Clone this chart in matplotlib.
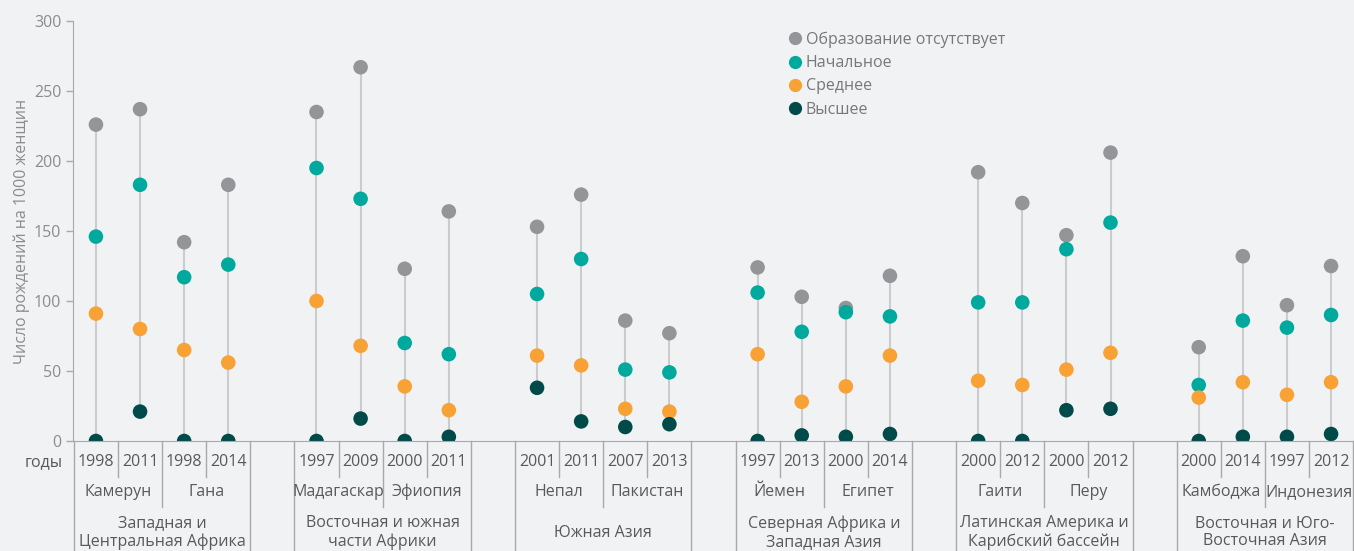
import numpy as np
import matplotlib.pyplot as plt
from matplotlib.lines import Line2D

plt.rcParams['font.family'] = ['Open Sans', 'DejaVu Sans']

# Данные: число рождений на 1000 женщин по уровню образования
regions = ['Западная и\nЦентральная Африка', 'Восточная и южная\nчасти Африки', 'Южная Азия',
           'Северная Африка и\nЗападная Азия', 'Латинская Америка и\nКарибский бассейн',
           'Восточная и Юго-\nВосточная Азия']
countries = ['Камерун', 'Гана', 'Мадагаскар', 'Эфиопия', 'Непал', 'Пакистан',
             'Йемен', 'Египет', 'Гаити', 'Перу', 'Камбоджа', 'Индонезия']
years = ['1998', '2011', '1998', '2014', '1997', '2009', '2000', '2011',
         '2001', '2011', '2007', '2013', '1997', '2013', '2000', '2014',
         '2000', '2012', '2000', '2012', '2000', '2014', '1997', '2012']

no_edu = [226, 237, 142, 183, 235, 267, 123, 164, 153, 176, 86, 77,
          124, 103, 95, 118, 192, 170, 147, 206, 67, 132, 97, 125]
primary = [146, 183, 117, 126, 195, 173, 70, 62, 105, 130, 51, 49,
           106, 78, 92, 89, 99, 99, 137, 156, 40, 86, 81, 90]
secondary = [91, 80, 65, 56, 100, 68, 39, 22, 61, 54, 23, 21,
             62, 28, 39, 61, 43, 40, 51, 63, 31, 42, 33, 42]
higher = [0, 21, 0, 0, 0, 16, 0, 3, 38, 14, 10, 12,
          0, 4, 3, 5, 0, 0, 22, 23, 0, 3, 3, 5]

series = [('Образование отсутствует', no_edu, '#939598'),
          ('Начальное', primary, '#00a99d'),
          ('Среднее', secondary, '#f8a134'),
          ('Высшее', higher, '#004a4a')]

bg = '#f1f2f4'
line_col = '#a7a9ac'
text_col = '#58595b'

# позиции: 4 столбца на регион + 1 пустой
x = np.array([g * 5 + i for g in range(6) for i in range(4)])

fig = plt.figure(figsize=(13.54, 5.51), dpi=100, facecolor=bg)
ax = fig.add_axes([73 / 1354, 110 / 551, 1 - 73 / 1354, 420 / 551])
ax.set_facecolor(bg)

vals = np.array([no_edu, primary, secondary, higher])
ax.vlines(x, vals.min(axis=0), vals.max(axis=0), color='#cbccce', lw=1.5, zorder=1)
for name, v, c in series:
    ax.scatter(x, v, s=110, color=c, edgecolor='none', zorder=3, clip_on=True)

ax.set_xlim(-0.52, 28.52)
ax.set_ylim(0, 300)
ax.set_yticks(range(0, 301, 50))
ax.set_xticks([])
for s in ['top', 'right']:
    ax.spines[s].set_visible(False)
ax.spines['left'].set_color(line_col)
ax.spines['bottom'].set_color(line_col)
ax.spines['bottom'].set_zorder(4)
ax.tick_params(axis='y', colors=line_col, labelcolor='#8a8c8f', labelsize=11.5, length=5, width=1)
ax.set_ylabel('Число рождений на 1000 женщин', color='#8a8c8f', fontsize=11.5, labelpad=3)

tr = ax.get_xaxis_transform()
y_year, y_country, y_region = -0.05, -0.121, -0.218
end_year, end_country, end_full = -0.086, -0.157, -0.27

def sep(xp, y_end):
    ax.plot([xp, xp], [0, y_end], transform=tr, color=line_col, lw=1, clip_on=False)

for k, xp in enumerate(x):
    ax.text(xp, y_year, years[k], transform=tr, ha='center', va='center',
            fontsize=11.5, color=text_col)

for c in range(12):
    g = c // 2
    xc = g * 5 + (c % 2) * 2 + 0.5
    ax.text(xc, y_country, countries[c], transform=tr, ha='center', va='center',
            fontsize=11.5, color=text_col)
    sep(xc, end_year)

for g in range(6):
    x0 = g * 5 - 0.5
    ax.text(x0 + 2, y_region, regions[g], transform=tr, ha='center', va='center',
            fontsize=11.5, color=text_col, linespacing=1.15)
    sep(x0, end_full)
    sep(x0 + 2, end_country)
    sep(x0 + 4, end_full)

ax.text(-0.75, y_year, 'годы', transform=tr, ha='right', va='center',
        fontsize=11.5, color=text_col)

handles = [Line2D([], [], marker='o', ls='none', color=c, markersize=8.5, label=n)
           for n, v, c in series]
leg = ax.legend(handles=handles, loc='upper left', bbox_to_anchor=(0.546, 1.009),
                frameon=False, fontsize=11.5, handletextpad=0.2, labelspacing=0.45,
                handlelength=1.0)
for t in leg.get_texts():
    t.set_color('#77787b')

fig.savefig('out.png', dpi=100, facecolor=bg)
